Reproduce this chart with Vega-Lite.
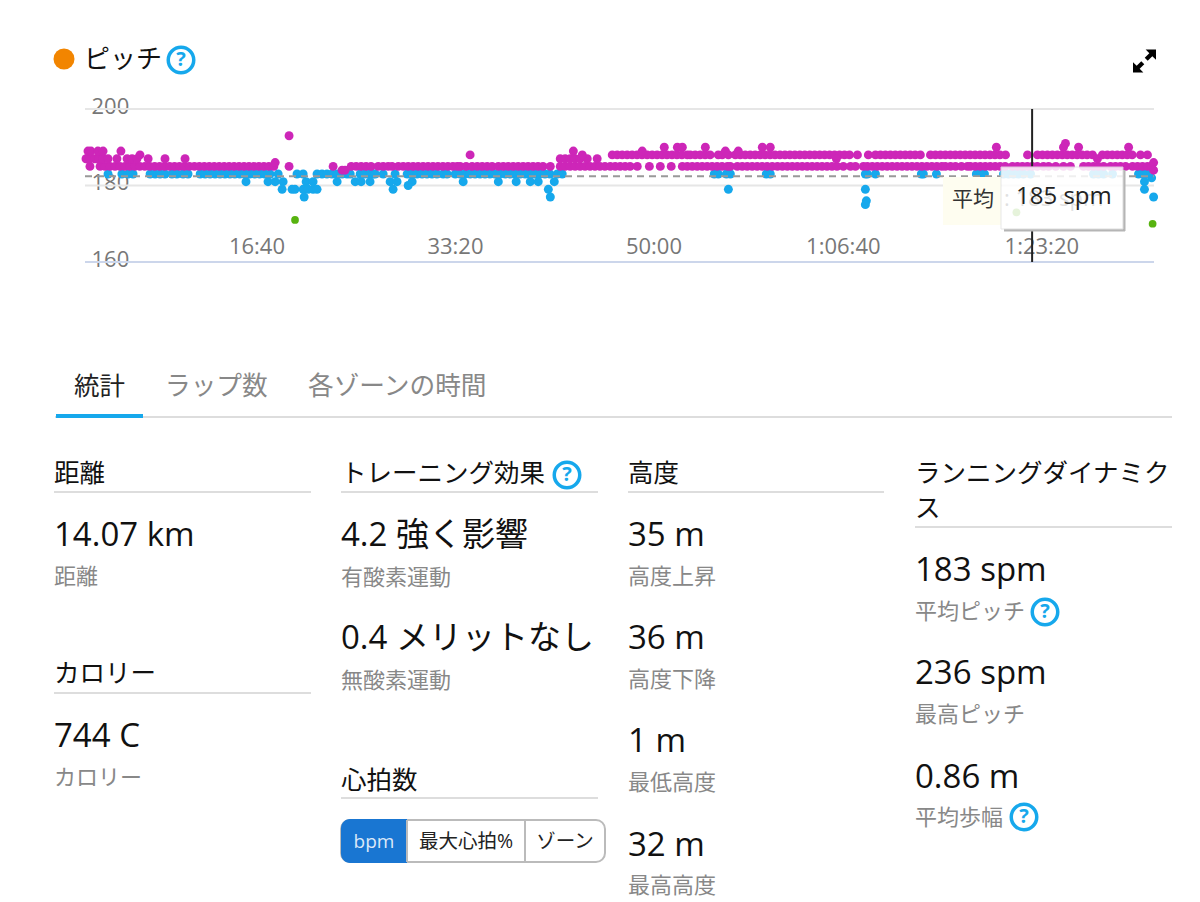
{
  "$schema": "https://vega.github.io/schema/vega-lite/v6.json",
  "description": "Cadence chart and run statistics",
  "width": 1200,
  "height": 902,
  "padding": 0,
  "autosize": {"type": "none"},
  "background": "white",
  "config": {"view": {"stroke": null}, "font": "Open Sans, Noto Sans CJK JP"},
  "resolve": {"scale": {"x": "independent", "y": "independent"}},
  "layer": [
    {
      "encoding": {
        "x": {"field": "t", "type": "quantitative", "scale": {"domain": [0, 5385], "range": [85, 1154]}, "axis": {"title": null, "orient": "bottom", "offset": -640, "values": [1000, 2000, 3000, 4000, 5000], "labelExpr": "datum.value<3600 ? utcFormat(datum.value*1000,'%M:%S') : utcFormat(datum.value*1000,'%-H:%M:%S')", "labelAlign": "right", "labelBaseline": "middle", "labelPadding": -16, "labelOffset": 1, "labelFontSize": 22, "labelColor": "#777777", "labelOverlap": false, "labelBound": false, "labelFlush": false, "domain": false, "ticks": false, "grid": false, "tickSize": 0}},
        "y": {"field": "spm", "type": "quantitative", "scale": {"domain": [160, 200], "range": [262, 109]}, "axis": {"title": null, "orient": "left", "offset": -85, "values": [160, 180, 200], "labelAlign": "left", "labelBaseline": "middle", "labelPadding": -6, "labelOffset": -3, "labelFontSize": 22, "labelColor": "#777777", "labelOverlap": false, "labelBound": false, "labelFlush": false, "domain": false, "ticks": false, "grid": false, "tickSize": 0}}
      },
      "layer": [
        {
          "data": {"values": [{"t": 0, "end": 5385, "spm": 200}, {"t": 0, "end": 5385, "spm": 180}]},
          "mark": {"type": "rule", "color": "#e6e6e6", "strokeWidth": 2},
          "encoding": {"x2": {"field": "end"}}
        },
        {
          "data": {"values": [{"t": 0, "end": 5385, "spm": 160}]},
          "mark": {"type": "rule", "color": "#ccd6eb", "strokeWidth": 2},
          "encoding": {"x2": {"field": "end"}}
        },
        {
          "data": {"values": [
{"t":116,"spm":183},{"t":186,"spm":183},{"t":217,"spm":183},{"t":242,"spm":183},{"t":328,"spm":183},{"t":353,"spm":183},{"t":378,"spm":183},{"t":403,"spm":183},{"t":438,"spm":183},{"t":463,"spm":183},{"t":494,"spm":183},{"t":519,"spm":183},
{"t":580,"spm":183},{"t":605,"spm":183},{"t":630,"spm":183},{"t":655,"spm":183},{"t":680,"spm":183},{"t":705,"spm":183},{"t":730,"spm":183},{"t":755,"spm":183},{"t":780,"spm":183},{"t":805,"spm":183},{"t":830,"spm":183},{"t":855,"spm":183},{"t":880,"spm":183},{"t":905,"spm":183},{"t":932,"spm":183},
{"t":973,"spm":183},{"t":1068,"spm":183},{"t":1099,"spm":183},{"t":1169,"spm":183},{"t":1194,"spm":183},{"t":1219,"spm":183},{"t":1244,"spm":183},{"t":1270,"spm":183},{"t":1295,"spm":183},{"t":1320,"spm":183},{"t":1336,"spm":183},{"t":1386,"spm":183},{"t":1411,"spm":183},{"t":1436,"spm":183},{"t":1452,"spm":183},{"t":1462,"spm":183},{"t":1502,"spm":183},{"t":1562,"spm":183},{"t":1623,"spm":183},
{"t":1648,"spm":183},{"t":1673,"spm":183},{"t":1698,"spm":183},{"t":1723,"spm":183},{"t":1748,"spm":183},{"t":1773,"spm":183},{"t":1804,"spm":183},{"t":1824,"spm":183},{"t":1865,"spm":183},{"t":1890,"spm":183},{"t":1915,"spm":183},{"t":1940,"spm":183},{"t":1965,"spm":183},{"t":1990,"spm":183},{"t":2015,"spm":183},{"t":2040,"spm":183},{"t":2065,"spm":183},{"t":2090,"spm":183},{"t":2117,"spm":183},
{"t":2142,"spm":183},{"t":2167,"spm":183},{"t":2192,"spm":183},{"t":2217,"spm":183},{"t":2242,"spm":183},{"t":2267,"spm":183},{"t":2292,"spm":183},{"t":2317,"spm":183},{"t":2342,"spm":183},{"t":2379,"spm":183},{"t":2404,"spm":183},
{"t":3170,"spm":183},{"t":3190,"spm":183},{"t":3231,"spm":183},{"t":3251,"spm":183},{"t":3432,"spm":183},{"t":3452,"spm":183},{"t":3931,"spm":183},{"t":3941,"spm":183},{"t":3982,"spm":183},{"t":4213,"spm":183},{"t":4223,"spm":183},{"t":4289,"spm":183},{"t":4490,"spm":183},{"t":4511,"spm":183},{"t":4531,"spm":183},{"t":4627,"spm":183},{"t":4652,"spm":183},{"t":4677,"spm":183},{"t":4702,"spm":183},{"t":4727,"spm":183},{"t":4763,"spm":183},{"t":5080,"spm":183},{"t":5105,"spm":183},{"t":5131,"spm":183},{"t":5176,"spm":183},{"t":5307,"spm":183},{"t":5327,"spm":183},{"t":5347,"spm":183},{"t":5373,"spm":182},
{"t":811,"spm":181},{"t":922,"spm":181},{"t":958,"spm":181},{"t":998,"spm":181},{"t":1114,"spm":181},{"t":1149,"spm":181},{"t":1270,"spm":181},{"t":1361,"spm":181},{"t":1391,"spm":181},{"t":1436,"spm":181},{"t":1537,"spm":181},{"t":1572,"spm":181},{"t":1648,"spm":181},{"t":1905,"spm":181},{"t":2082,"spm":181},{"t":2172,"spm":181},{"t":2243,"spm":181},{"t":2283,"spm":181},{"t":2364,"spm":181},{"t":5337,"spm":181},
{"t":1628,"spm":180},{"t":993,"spm":179},{"t":1043,"spm":179},{"t":1058,"spm":179},{"t":1099,"spm":179},{"t":1124,"spm":179},{"t":1149,"spm":179},{"t":1169,"spm":179},{"t":1552,"spm":179},{"t":2334,"spm":179},{"t":3241,"spm":179},{"t":3931,"spm":179},{"t":5337,"spm":179},
{"t":1104,"spm":177},{"t":2344,"spm":177},{"t":5383,"spm":177},{"t":3936,"spm":176},{"t":3931,"spm":175},
{"t":1058,"spm":171},{"t":5378,"spm":170},{"t":4692,"spm":173},
{"t":25,"spm":185},{"t":76,"spm":185},{"t":101,"spm":185},{"t":126,"spm":185},{"t":151,"spm":185},{"t":176,"spm":185},{"t":201,"spm":185},{"t":226,"spm":185},{"t":251,"spm":185},{"t":276,"spm":185},{"t":301,"spm":185},{"t":326,"spm":185},{"t":351,"spm":185},{"t":376,"spm":185},{"t":401,"spm":185},{"t":426,"spm":185},{"t":451,"spm":185},{"t":476,"spm":185},{"t":501,"spm":185},{"t":526,"spm":185},{"t":551,"spm":185},{"t":576,"spm":185},{"t":601,"spm":185},{"t":626,"spm":185},{"t":651,"spm":185},{"t":676,"spm":185},{"t":701,"spm":185},{"t":726,"spm":185},{"t":751,"spm":185},{"t":776,"spm":185},{"t":801,"spm":185},{"t":826,"spm":185},{"t":851,"spm":185},{"t":876,"spm":185},{"t":901,"spm":185},{"t":926,"spm":185},{"t":951,"spm":185},{"t":958,"spm":186},{"t":1028,"spm":185},{"t":1250,"spm":185},{"t":1295,"spm":184},{"t":1310,"spm":184},
{"t":1341,"spm":185},{"t":1366,"spm":185},{"t":1391,"spm":185},{"t":1416,"spm":185},{"t":1441,"spm":185},{"t":1477,"spm":185},{"t":1502,"spm":185},{"t":1527,"spm":185},{"t":1547,"spm":185},{"t":1578,"spm":185},{"t":1603,"spm":185},{"t":1628,"spm":185},{"t":1653,"spm":185},{"t":1678,"spm":185},{"t":1703,"spm":185},{"t":1728,"spm":185},{"t":1753,"spm":185},{"t":1778,"spm":185},{"t":1803,"spm":185},{"t":1828,"spm":185},{"t":1853,"spm":185},{"t":1875,"spm":185},{"t":1890,"spm":185},{"t":1920,"spm":185},{"t":1950,"spm":185},{"t":1976,"spm":185},{"t":2001,"spm":185},{"t":2026,"spm":185},{"t":2051,"spm":185},
{"t":2082,"spm":185},{"t":2107,"spm":185},{"t":2132,"spm":185},{"t":2157,"spm":185},{"t":2182,"spm":185},{"t":2207,"spm":185},{"t":2232,"spm":185},{"t":2257,"spm":185},{"t":2282,"spm":185},{"t":2307,"spm":185},{"t":2344,"spm":185},{"t":2394,"spm":185},{"t":2419,"spm":185},{"t":2444,"spm":185},{"t":2469,"spm":185},{"t":2494,"spm":185},{"t":2519,"spm":185},{"t":2544,"spm":185},{"t":2569,"spm":185},{"t":2594,"spm":185},{"t":2619,"spm":185},{"t":2646,"spm":185},{"t":2671,"spm":185},{"t":2696,"spm":185},{"t":2721,"spm":185},{"t":2746,"spm":185},{"t":2782,"spm":185},{"t":2843,"spm":185},{"t":2898,"spm":185},{"t":2953,"spm":185},
{"t":3009,"spm":185},{"t":3034,"spm":185},{"t":3059,"spm":185},{"t":3084,"spm":185},{"t":3109,"spm":185},{"t":3134,"spm":185},{"t":3159,"spm":185},{"t":3184,"spm":185},{"t":3209,"spm":185},{"t":3236,"spm":185},{"t":3251,"spm":185},{"t":3286,"spm":185},{"t":3311,"spm":185},{"t":3336,"spm":185},{"t":3361,"spm":185},{"t":3386,"spm":185},{"t":3411,"spm":185},{"t":3436,"spm":185},{"t":3462,"spm":185},{"t":3488,"spm":185},{"t":3513,"spm":185},{"t":3538,"spm":185},{"t":3563,"spm":185},{"t":3588,"spm":185},{"t":3613,"spm":185},{"t":3638,"spm":185},{"t":3663,"spm":185},{"t":3688,"spm":185},{"t":3713,"spm":185},{"t":3738,"spm":185},{"t":3763,"spm":185},{"t":3788,"spm":185},{"t":3820,"spm":185},{"t":3856,"spm":185},{"t":3881,"spm":185},{"t":3921,"spm":185},{"t":3941,"spm":185},{"t":3966,"spm":185},{"t":3991,"spm":185},
{"t":4016,"spm":185},{"t":4041,"spm":185},{"t":4066,"spm":185},{"t":4091,"spm":185},{"t":4116,"spm":185},{"t":4141,"spm":185},{"t":4166,"spm":185},{"t":4191,"spm":185},{"t":4216,"spm":185},{"t":4241,"spm":185},{"t":4266,"spm":185},{"t":4291,"spm":185},{"t":4316,"spm":185},{"t":4334,"spm":185},{"t":4360,"spm":185},{"t":4385,"spm":185},{"t":4415,"spm":185},{"t":4445,"spm":185},{"t":4460,"spm":185},{"t":4485,"spm":185},{"t":4510,"spm":185},{"t":4535,"spm":185},{"t":4560,"spm":185},{"t":4585,"spm":185},{"t":4610,"spm":185},{"t":4635,"spm":185},{"t":4672,"spm":185},{"t":4697,"spm":185},{"t":4722,"spm":185},{"t":4747,"spm":185},{"t":4772,"spm":185},{"t":4797,"spm":185},{"t":4828,"spm":185},{"t":4854,"spm":185},{"t":4890,"spm":185},{"t":4929,"spm":185},{"t":4964,"spm":185},{"t":5030,"spm":185},{"t":5055,"spm":185},{"t":5080,"spm":185},{"t":5105,"spm":185},{"t":5131,"spm":185},{"t":5166,"spm":185},{"t":5191,"spm":185},{"t":5216,"spm":185},{"t":5242,"spm":185},{"t":5277,"spm":185},{"t":5302,"spm":185},{"t":5327,"spm":185},{"t":5352,"spm":185},{"t":5372,"spm":185},{"t":5383,"spm":186},{"t":5383,"spm":184},
{"t":5,"spm":187},{"t":25,"spm":187},{"t":50,"spm":187},{"t":70,"spm":187},{"t":90,"spm":187},{"t":116,"spm":187},{"t":161,"spm":187},{"t":212,"spm":187},{"t":237,"spm":187},{"t":262,"spm":187},{"t":318,"spm":187},{"t":403,"spm":187},{"t":504,"spm":187},
{"t":2394,"spm":187},{"t":2419,"spm":187},{"t":2444,"spm":187},{"t":2469,"spm":187},{"t":2494,"spm":187},{"t":2530,"spm":187},{"t":2580,"spm":187},
{"t":15,"spm":189},{"t":30,"spm":189},{"t":65,"spm":189},{"t":91,"spm":189},{"t":181,"spm":189},{"t":277,"spm":188},{"t":2460,"spm":189},{"t":2505,"spm":188},{"t":1940,"spm":188},{"t":1028,"spm":193},
{"t":2656,"spm":188},{"t":2681,"spm":188},{"t":2706,"spm":188},{"t":2731,"spm":188},{"t":2756,"spm":188},{"t":2781,"spm":188},{"t":2806,"spm":188},{"t":2832,"spm":188},{"t":2857,"spm":188},{"t":2882,"spm":188},{"t":2907,"spm":188},{"t":2932,"spm":188},{"t":2957,"spm":188},{"t":2982,"spm":188},{"t":3007,"spm":188},{"t":3034,"spm":188},{"t":3049,"spm":188},{"t":3074,"spm":188},{"t":3099,"spm":188},{"t":3124,"spm":188},{"t":3149,"spm":188},{"t":3190,"spm":188},{"t":3210,"spm":188},{"t":3241,"spm":188},
{"t":3276,"spm":188},{"t":3301,"spm":188},{"t":3326,"spm":188},{"t":3351,"spm":188},{"t":3376,"spm":188},{"t":3401,"spm":188},{"t":3426,"spm":188},{"t":3451,"spm":188},{"t":3476,"spm":188},{"t":3501,"spm":188},{"t":3526,"spm":188},{"t":3551,"spm":188},{"t":3576,"spm":188},{"t":3601,"spm":188},{"t":3626,"spm":188},{"t":3651,"spm":188},{"t":3676,"spm":188},{"t":3701,"spm":188},{"t":3726,"spm":188},{"t":3751,"spm":188},{"t":3776,"spm":188},{"t":3801,"spm":188},{"t":3826,"spm":188},{"t":3851,"spm":188},{"t":3891,"spm":188},{"t":3946,"spm":188},{"t":3982,"spm":188},{"t":4007,"spm":188},
{"t":4032,"spm":188},{"t":4057,"spm":188},{"t":4082,"spm":188},{"t":4107,"spm":188},{"t":4132,"spm":188},{"t":4157,"spm":188},{"t":4182,"spm":188},{"t":4208,"spm":188},{"t":4259,"spm":188},{"t":4284,"spm":188},{"t":4309,"spm":188},{"t":4334,"spm":188},{"t":4359,"spm":188},{"t":4384,"spm":188},{"t":4409,"spm":188},{"t":4434,"spm":188},{"t":4459,"spm":188},{"t":4484,"spm":188},{"t":4509,"spm":188},{"t":4534,"spm":188},{"t":4559,"spm":188},{"t":4584,"spm":188},{"t":4609,"spm":188},{"t":4637,"spm":188},{"t":4748,"spm":188},{"t":4798,"spm":188},{"t":4823,"spm":188},{"t":4848,"spm":188},{"t":4873,"spm":188},{"t":4898,"spm":188},{"t":4923,"spm":188},{"t":4948,"spm":188},{"t":4973,"spm":188},{"t":4998,"spm":188},{"t":5023,"spm":188},{"t":5048,"spm":188},{"t":5075,"spm":188},{"t":5100,"spm":187},{"t":5125,"spm":188},{"t":5150,"spm":188},{"t":5175,"spm":188},{"t":5200,"spm":188},{"t":5225,"spm":188},{"t":5250,"spm":188},{"t":5275,"spm":188},{"t":5317,"spm":188},{"t":5352,"spm":188},
{"t":2807,"spm":189},{"t":3226,"spm":189},{"t":3291,"spm":189},{"t":3785,"spm":187},
{"t":2918,"spm":190},{"t":2984,"spm":190},{"t":3009,"spm":190},{"t":3125,"spm":190},{"t":3412,"spm":190},{"t":3452,"spm":190},{"t":4591,"spm":190},{"t":4929,"spm":190},{"t":4939,"spm":191},{"t":5005,"spm":190},{"t":5257,"spm":190}
          ]},
          "mark": {"type": "point", "filled": true, "opacity": 1},
          "encoding": {
            "color": {"field": "spm", "type": "quantitative", "legend": null, "scale": {"type": "threshold", "domain": [174, 184], "range": ["#57b30f", "#16a8ec", "#cd26b8"]}},
            "size": {"field": "spm", "type": "quantitative", "legend": null, "scale": {"type": "threshold", "domain": [174], "range": [60, 80]}}
          }
        },
        {
          "data": {"values": [{"t": 0, "end": 5385, "spm": 182.4}]},
          "mark": {"type": "rule", "color": "#999999", "strokeWidth": 2, "strokeDash": [7, 5]},
          "encoding": {"x2": {"field": "end"}}
        },
        {
          "data": {"values": [{"t": 4771, "spm": 185, "top": 200}, {"t": 4771, "spm": 160, "top": 168.5}]},
          "mark": {"type": "rule", "color": "#222222", "strokeWidth": 2},
          "encoding": {"y2": {"field": "top"}}
        }
      ]
    },
    {
      "encoding": {
        "x": {"field": "col", "type": "quantitative", "scale": {"domain": [0, 1200], "range": [0, 1200]}, "axis": null},
        "y": {"field": "row", "type": "quantitative", "scale": {"domain": [0, 902], "range": [0, 902]}, "axis": null}
      },
      "layer": [
        {
          "data": {"values": [{"col": 64, "row": 59}]},
          "mark": {"type": "point", "filled": true, "opacity": 1, "size": 441, "color": "#f28500"}
        },
        {
          "data": {"values": [{"col": 1144.5, "row": 61}]},
          "mark": {"type": "point", "filled": true, "opacity": 1, "size": 529, "color": "#000000", "shape": "M1,-1 L1,-0.1 L0.68,-0.42 L0.28,-0.02 L0.02,-0.28 L0.42,-0.68 L0.1,-1 Z M-1,1 L-1,0.1 L-0.68,0.42 L-0.28,0.02 L-0.02,0.28 L-0.42,0.68 L-0.1,1 Z"}
        },
        {
          "data": {"values": [{"col": 181, "row": 60}, {"col": 567, "row": 475}, {"col": 1045, "row": 612}, {"col": 1024, "row": 817}]},
          "mark": {"type": "point", "filled": false, "opacity": 1, "size": 650, "color": "#16a8ec", "strokeWidth": 3.5}
        },
        {
          "data": {"values": [{"col": 181, "row": 60, "label": "?"}, {"col": 567, "row": 475, "label": "?"}, {"col": 1045, "row": 612, "label": "?"}, {"col": 1024, "row": 817, "label": "?"}]},
          "mark": {"type": "text", "align": "center", "baseline": "middle", "fontSize": 20, "fontWeight": "bold", "color": "#16a8ec"},
          "encoding": {"text": {"field": "label"}}
        },
        {
          "data": {"values": [{"col": 84, "row": 59, "label": "ピッチ"}]},
          "mark": {"type": "text", "align": "left", "baseline": "middle", "dy": 1, "fontSize": 26, "color": "#111111"},
          "encoding": {"text": {"field": "label"}}
        },
        {
          "data": {"values": [{"col": 55, "end": 1172, "row": 417}, {"col": 54, "end": 311, "row": 492}, {"col": 341, "end": 598, "row": 492}, {"col": 628, "end": 884, "row": 492}, {"col": 915, "end": 1172, "row": 527}, {"col": 54, "end": 311, "row": 693}, {"col": 341, "end": 598, "row": 798}]},
          "mark": {"type": "rule", "color": "#dddddd", "strokeWidth": 2},
          "encoding": {"x2": {"field": "end"}}
        },
        {
          "data": {"values": [{"col": 56, "end": 143, "row": 416}]},
          "mark": {"type": "rule", "color": "#16a8ec", "strokeWidth": 4},
          "encoding": {"x2": {"field": "end"}}
        },
        {
          "data": {"values": [{"col": 74, "row": 386, "label": "統計"}]},
          "mark": {"type": "text", "align": "left", "baseline": "middle", "dy": 1, "fontSize": 25.5, "color": "#222222"},
          "encoding": {"text": {"field": "label"}}
        },
        {
          "data": {"values": [{"col": 165, "row": 386, "label": "ラップ数"}, {"col": 308, "row": 386, "label": "各ゾーンの時間"}]},
          "mark": {"type": "text", "align": "left", "baseline": "middle", "dy": 1, "fontSize": 25.7, "color": "#888888"},
          "encoding": {"text": {"field": "label"}}
        },
        {
          "data": {"values": [
            {"col": 54, "row": 474, "label": "距離"}, {"col": 54, "row": 674, "label": "カロリー"},
            {"col": 341, "row": 474, "label": "トレーニング効果"}, {"col": 341, "row": 781, "label": "心拍数"},
            {"col": 628, "row": 474, "label": "高度"},
            {"col": 915, "row": 474, "label": "ランニングダイナミク"}, {"col": 915, "row": 509, "label": "ス"}
          ]},
          "mark": {"type": "text", "align": "left", "baseline": "middle", "fontSize": 25.5, "color": "#111111"},
          "encoding": {"text": {"field": "label"}}
        },
        {
          "data": {"values": [
            {"col": 54, "row": 535, "label": "14.07 km"}, {"col": 54, "row": 736, "label": "744 C"},
            {"col": 341, "row": 535, "label": "4.2 強く影響"}, {"col": 341, "row": 638, "label": "0.4 メリットなし"},
            {"col": 628, "row": 535, "label": "35 m"}, {"col": 628, "row": 638, "label": "36 m"}, {"col": 628, "row": 741, "label": "1 m"}, {"col": 628, "row": 845, "label": "32 m"},
            {"col": 915, "row": 570, "label": "183 spm"}, {"col": 915, "row": 673, "label": "236 spm"}, {"col": 915, "row": 777, "label": "0.86 m"}
          ]},
          "mark": {"type": "text", "align": "left", "baseline": "middle", "dy": 1, "fontSize": 33, "color": "#111111"},
          "encoding": {"text": {"field": "label"}}
        },
        {
          "data": {"values": [
            {"col": 54, "row": 577, "label": "距離"}, {"col": 54, "row": 778, "label": "カロリー"},
            {"col": 341, "row": 578, "label": "有酸素運動"}, {"col": 341, "row": 681, "label": "無酸素運動"},
            {"col": 628, "row": 577, "label": "高度上昇"}, {"col": 628, "row": 680, "label": "高度下降"}, {"col": 628, "row": 783, "label": "最低高度"}, {"col": 628, "row": 886, "label": "最高高度"},
            {"col": 915, "row": 612, "label": "平均ピッチ"}, {"col": 915, "row": 715, "label": "最高ピッチ"}, {"col": 915, "row": 818, "label": "平均歩幅"}
          ]},
          "mark": {"type": "text", "align": "left", "baseline": "middle", "fontSize": 22, "color": "#888888"},
          "encoding": {"text": {"field": "label"}}
        },
        {
          "data": {"values": [{"col": 341, "end": 605, "row": 820, "bottom": 862}]},
          "mark": {"type": "rect", "fill": "white", "stroke": "#bbbbbb", "strokeWidth": 2, "cornerRadius": 9},
          "encoding": {"x2": {"field": "end"}, "y2": {"field": "bottom"}}
        },
        {
          "data": {"values": [{"col": 341, "end": 407, "row": 819, "bottom": 863}]},
          "mark": {"type": "rect", "fill": "#1976d2", "cornerRadiusTopLeft": 9, "cornerRadiusBottomLeft": 9},
          "encoding": {"x2": {"field": "end"}, "y2": {"field": "bottom"}}
        },
        {
          "data": {"values": [{"col": 525, "row": 820, "bottom": 862}, {"col": 407, "row": 820, "bottom": 862}]},
          "mark": {"type": "rule", "color": "#bbbbbb", "strokeWidth": 2},
          "encoding": {"y2": {"field": "bottom"}}
        },
        {
          "data": {"values": [{"col": 374, "row": 841, "label": "bpm"}]},
          "mark": {"type": "text", "align": "center", "baseline": "middle", "dy": 1, "fontSize": 19, "color": "#dbe8f8"},
          "encoding": {"text": {"field": "label"}}
        },
        {
          "data": {"values": [{"col": 466, "row": 841, "label": "最大心拍%"}, {"col": 565, "row": 841, "label": "ゾーン"}]},
          "mark": {"type": "text", "align": "center", "baseline": "middle", "dy": 1, "fontSize": 19.5, "color": "#222222"},
          "encoding": {"text": {"field": "label"}}
        },
        {
          "data": {"values": [{"col": 943, "end": 1001, "row": 177, "bottom": 225}]},
          "mark": {"type": "rect", "fill": "#fefdf0"},
          "encoding": {"x2": {"field": "end"}, "y2": {"field": "bottom"}}
        },
        {
          "data": {"values": [{"col": 952, "row": 200, "label": "平均"}]},
          "mark": {"type": "text", "align": "left", "baseline": "middle", "fontSize": 21, "color": "#333333"},
          "encoding": {"text": {"field": "label"}}
        },
        {
          "data": {"values": [{"col": 1004, "row": 199, "label": ": 183 spm"}]},
          "mark": {"type": "text", "align": "left", "baseline": "middle", "fontSize": 22, "color": "#333333"},
          "encoding": {"text": {"field": "label"}}
        },
        {
          "data": {"values": [{"col": 1124, "row": 170, "bottom": 231}]},
          "mark": {"type": "rule", "color": "#b5b5b5", "strokeWidth": 3},
          "encoding": {"y2": {"field": "bottom"}}
        },
        {
          "data": {"values": [{"col": 1004, "end": 1125, "row": 230}]},
          "mark": {"type": "rule", "color": "#b5b5b5", "strokeWidth": 3},
          "encoding": {"x2": {"field": "end"}}
        },
        {
          "data": {"values": [{"col": 1001, "end": 1123, "row": 167, "bottom": 229}]},
          "mark": {"type": "rect", "fill": "white", "opacity": 0.85, "stroke": "#e4e4e4", "strokeWidth": 1},
          "encoding": {"x2": {"field": "end"}, "y2": {"field": "bottom"}}
        },
        {
          "data": {"values": [{"col": 1016, "row": 197, "label": "185 spm"}]},
          "mark": {"type": "text", "align": "left", "baseline": "middle", "fontSize": 24, "color": "#222222"},
          "encoding": {"text": {"field": "label"}}
        }
      ]
    }
  ]
}
